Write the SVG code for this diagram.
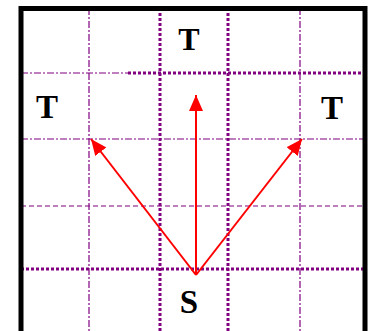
<svg xmlns="http://www.w3.org/2000/svg" width="370" height="331" viewBox="0 0 370 331">
<defs>
<style>
.thin{stroke:#800080;stroke-width:1.2;fill:none;stroke-dasharray:7 2 2 2}
.dash{stroke:#800080;stroke-width:1.2;fill:none;stroke-dasharray:5 3}
.thick{stroke:#800080;stroke-width:3;fill:none;stroke-dasharray:3 2}
.arr{stroke:#ff0000;stroke-width:2;fill:none;marker-end:url(#ah)}
.lbl{font-family:"Liberation Serif",serif;font-weight:bold;fill:#000;text-anchor:middle}
</style>
<marker id="ah" markerUnits="userSpaceOnUse" markerWidth="18" markerHeight="14" refX="16" refY="7" orient="auto">
<path d="M0,0 L16,7 L0,14 Z" fill="#ff0000"/>
</marker>
</defs>
<rect width="370" height="331" fill="#fff"/>
<g id="grid">
<line class="thin" x1="89" y1="8" x2="89" y2="331"/>
<line class="thick" x1="160" y1="8" x2="160" y2="331"/>
<line class="thick" x1="228" y1="8" x2="228" y2="331"/>
<line class="thin" x1="300" y1="8" x2="300" y2="331"/>
<line class="thin" x1="21" y1="73" x2="128" y2="73"/>
<line class="thick" x1="128" y1="73" x2="365" y2="73"/>
<line class="thin" x1="21" y1="139" x2="365" y2="139"/>
<line class="dash" x1="21" y1="206" x2="365" y2="206"/>
<line class="thick" x1="21" y1="269" x2="365" y2="269"/>
</g>
<path d="M21,331 V8.5 H365 V331" fill="none" stroke="#000" stroke-width="5"/>
<g id="connectors">
<line class="arr" x1="196" y1="275" x2="196" y2="95"/>
<line class="arr" x1="196" y1="275" x2="91" y2="139"/>
<line class="arr" x1="196" y1="275" x2="302" y2="139"/>
</g>
<g id="t-top"><text class="lbl" x="189" y="50" font-size="32">T</text></g>
<g id="t-left"><text class="lbl" x="47" y="118" font-size="33">T</text></g>
<g id="t-right"><text class="lbl" x="332" y="119" font-size="33">T</text></g>
<g id="s"><text class="lbl" x="189" y="313" font-size="33">S</text></g>
</svg>
